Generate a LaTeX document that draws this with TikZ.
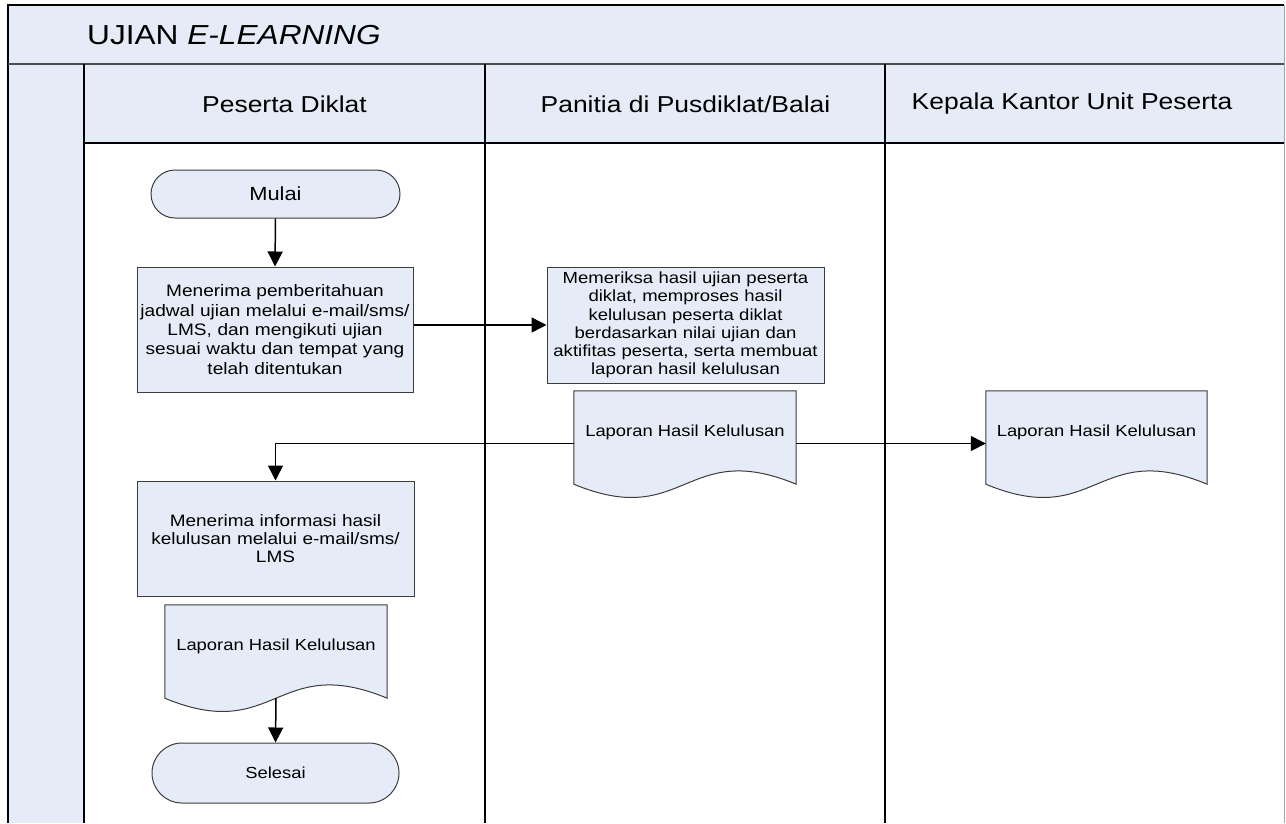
\documentclass[tikz,border=0pt]{standalone}
\usepackage{fontspec}
\setmainfont{Liberation Sans}[FakeStretch=1.15]
\usetikzlibrary{arrows.meta,calc}
\definecolor{lb}{RGB}{230,236,247}
\definecolor{edge}{RGB}{60,60,60}
\pgfdeclarelayer{bg}
\pgfdeclarelayer{mid}
\pgfsetlayers{bg,mid,main}
\begin{document}
\begin{tikzpicture}[x=1pt,y=-1pt,
  proc/.style={draw=edge, line width=1pt, fill=lb, rectangle, inner sep=0pt, align=center},
  term/.style={draw=edge, line width=1pt, fill=lb, rectangle, inner sep=0pt, align=center},
  docbox/.style={rectangle, inner sep=0pt, align=center, minimum width=222pt, minimum height=93pt,
    text height=9pt, text depth=11pt, font=\fontsize{16}{18}\selectfont},
  docline/.style={draw=edge, line width=1pt, fill=lb},
  flow/.style={line width=1.5pt, draw=black, -{Triangle[length=15pt,width=15pt]}},
  lane/.style={line width=1.2pt, draw=black},
  hdr/.style={font=\fontsize{23}{26}\selectfont, inner sep=0pt}
]
\useasboundingbox (0,0) rectangle (1286,823);

% ---------- swimlane frame ----------
\begin{pgfonlayer}{bg}
  \fill[lb] (8,5) rectangle (1284,64);
  \fill[lb] (8,64) rectangle (84,823);
  \fill[lb] (84,64) rectangle (1284,143);
  \draw[line width=1.3pt, draw=black] (8,823) -- (8,5) -- (1284,5);
  \draw[line width=1pt, draw=gray!70] (1284.5,5) -- (1284.5,823);
  \draw[line width=2pt, draw=black!70] (8,64) -- (1284,64);
  \draw[lane] (84,143) -- (1284,143);
  \draw[lane] (84,64) -- (84,823);
  \draw[lane] (485,64) -- (485,823);
  \draw[lane] (885,64) -- (885,823);
\end{pgfonlayer}

\node[anchor=west, font=\fontsize{27.5}{30}\selectfont, inner sep=0pt] (title) at (87,35) {UJIAN \textit{E-LEARNING}};
\node[hdr] (h1) at (284.5,104) {Peserta Diklat};
\node[hdr] (h2) at (685.5,104) {Panitia di Pusdiklat/Balai};
\node[hdr] (h3) at (1072,104) {Kepala Kantor Unit Peserta};

% ---------- flow nodes ----------
\node[term, minimum width=249pt, minimum height=48pt, rounded corners=24pt,
  font=\fontsize{19}{21}\selectfont] (mulai) at (275.5,194) {Mulai};

\node[proc, text width=276pt, minimum height=125pt, font=\fontsize{16.6}{19.3}\selectfont] (box1) at (275,329.5)
  {Menerima pemberitahuan\\ jadwal ujian melalui e-mail/sms/\\ LMS, dan mengikuti ujian\\ sesuai waktu dan tempat yang\\ telah ditentukan};

\node[proc, text width=277pt, minimum height=116pt, font=\fontsize{16.1}{18.3}\selectfont] (box2) at (685.5,325)
  {Memeriksa hasil ujian peserta\\ diklat, memproses hasil\\ kelulusan peserta diklat\\ berdasarkan nilai ujian dan\\ aktifitas peserta, serta membuat\\ laporan hasil kelulusan};

\node[docbox] (doc1) at (685,437.5) {Laporan Hasil Kelulusan};
\node[docbox, minimum width=221pt] (doc2) at (1096.5,437.5) {Laporan Hasil Kelulusan};

\node[proc, text width=277pt, minimum height=115pt, font=\fontsize{16.5}{18}\selectfont] (box3) at (275.5,538.5)
  {Menerima informasi hasil\\ kelulusan melalui e-mail/sms/\\ LMS};

\node[docbox] (doc3) at (276,651.5) {Laporan Hasil Kelulusan};

\node[term, minimum width=247pt, minimum height=60pt, rounded corners=30pt,
  font=\fontsize{16}{18}\selectfont] (selesai) at (275.5,773) {Selesai};

% ---------- document outlines ----------
\begin{pgfonlayer}{mid}
  \foreach \d in {doc1,doc2,doc3}{
    \draw[docline] (\d.north west) -- (\d.north east) -- (\d.south east)
      .. controls ($(\d.south)+(0,-46)$) and ($(\d.south)+(0,46)$) .. (\d.south west) -- cycle;
  }
\end{pgfonlayer}

% ---------- connectors ----------
\draw[flow] (mulai.south) -- (box1.north);
\draw[flow] (box1.east |- box2.west) -- (box2.west);
\draw[flow] ([yshift=-6pt]doc1.east) -- ([yshift=-6pt]doc2.west);
\draw[flow] ([yshift=-6pt]doc1.west) -| (box3.north);
\draw[flow] (doc3.south) -- (selesai.north);
\end{tikzpicture}
\end{document}
